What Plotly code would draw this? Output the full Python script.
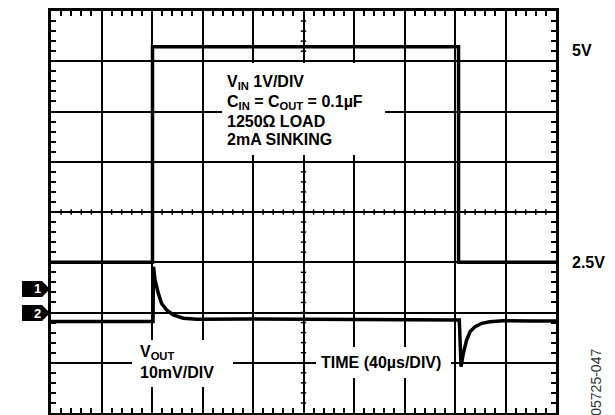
import plotly.graph_objects as go

# Scope graticule: 10 horizontal x 8 vertical divisions
X_DIVS = 10
Y_DIVS = 8
MINOR = 0.2  # five minor marks per division

# Channel 1 (input step), screen position in divisions
vin_t = [0.0, 2.01, 2.01, 8.07, 8.07, 10.0]
vin_div = [3.0, 3.0, 7.29, 7.29, 3.0, 3.0]

# Channel 2 (output transient), screen position in divisions
vout_t = [0.0, 1.0, 2.02, 2.03, 2.06, 2.125, 2.19, 2.29, 2.42, 2.62, 2.89,
          4.0, 6.0, 8.07, 8.085, 8.12, 8.165, 8.23, 8.30, 8.40, 8.53, 8.69,
          8.95, 9.5, 10.0]
vout_div = [1.82, 1.82, 1.82, 2.91, 2.65, 2.38, 2.18, 2.05, 1.95, 1.885, 1.865,
            1.87, 1.865, 1.86, 1.85, 0.92, 1.19, 1.45, 1.62, 1.72, 1.785, 1.817,
            1.837, 1.83, 1.83]

# Channel ground-reference markers at the left edge
marker_names = ["1", "2"]
marker_levels = [2.47, 1.99]

# Level labels on the right
level_labels = ["5V", "2.5V"]
level_values = [vin_div[2], vin_div[0]]

FONT = "Arial, Liberation Sans, sans-serif"

fig = go.Figure()
fig.add_trace(go.Scatter(x=vin_t, y=vin_div, mode="lines",
                         line=dict(color="black", width=3.5), hoverinfo="skip"))
fig.add_trace(go.Scatter(x=vout_t, y=vout_div, mode="lines",
                         line=dict(color="black", width=3.5), hoverinfo="skip"))

shapes = []
# minor marks along the centre cross-hair
n_x = int(round(X_DIVS / MINOR))
n_y = int(round(Y_DIVS / MINOR))
for k in range(1, n_x):
    xv = k * MINOR
    shapes.append(dict(type="line", xref="x", yref="y", x0=xv, x1=xv,
                       y0=Y_DIVS / 2 - 0.053, y1=Y_DIVS / 2 + 0.053,
                       line=dict(color="black", width=1.5), layer="between"))
for k in range(1, n_y):
    yv = k * MINOR
    shapes.append(dict(type="line", xref="x", yref="y", y0=yv, y1=yv,
                       x0=X_DIVS / 2 - 0.053, x1=X_DIVS / 2 + 0.053,
                       line=dict(color="black", width=1.5), layer="between"))

# white panels behind the text blocks
for (x0, x1, y0, y1) in [(3.386, 6.614, 5.134, 6.965),
                         (1.604, 3.604, 0.517, 1.453),
                         (5.248, 7.921, 0.697, 1.313)]:
    shapes.append(dict(type="rect", xref="x", yref="y", x0=x0, x1=x1, y0=y0, y1=y1,
                       fillcolor="white", line=dict(width=0), layer="between"))

# channel markers (arrow tags pointing at the graticule)
for lvl in marker_levels:
    shapes.append(dict(type="path", xref="paper", yref="y",
                       xsizemode="pixel", ysizemode="pixel", xanchor=0, yanchor=lvl,
                       path="M-29,-8 H-9 L-1,0 L-9,8 H-29 Z",
                       fillcolor="black", line=dict(width=0), layer="above"))

annotations = []
for name, lvl in zip(marker_names, marker_levels):
    annotations.append(dict(xref="paper", yref="y", x=0, y=lvl, xshift=-19,
                            text=f"<b>{name}</b>", showarrow=False,
                            font=dict(family=FONT, size=13, color="white")))

center_lines = ["V<sub>IN</sub> 1V/DIV",
                "C<sub>IN</sub> = C<sub>OUT</sub> = 0.1µF",
                "1250Ω LOAD",
                "2mA SINKING"]
center_y = [6.571, 6.189, 5.801, 5.433]
for txt, yv in zip(center_lines, center_y):
    annotations.append(dict(xref="x", yref="y", x=3.45, y=yv, xanchor="left",
                            yanchor="middle", text=f"<b>{txt}</b>", showarrow=False,
                            font=dict(family=FONT, size=16, color="black")))

annotations.append(dict(xref="x", yref="y", x=1.73, y=1.01, xanchor="left",
                        yanchor="middle", align="left",
                        text="<b>V<sub>OUT</sub><br>10mV/DIV</b>", showarrow=False,
                        font=dict(family=FONT, size=16, color="black")))
annotations.append(dict(xref="x", yref="y", x=5.30, y=0.999, xanchor="left",
                        yanchor="middle", text="<b>TIME (40µs/DIV)</b>", showarrow=False,
                        font=dict(family=FONT, size=16, color="black")))

for txt, yv, ys in zip(level_labels, level_values, [-4, 0]):
    annotations.append(dict(xref="paper", yref="y", x=1.0277, y=yv, yshift=ys,
                            xanchor="left", yanchor="middle", text=f"<b>{txt}</b>",
                            showarrow=False,
                            font=dict(family=FONT, size=16, color="black")))

annotations.append(dict(xref="paper", yref="y", x=1.079, y=0.62, textangle=-90,
                        xanchor="center", yanchor="middle",
                        text="05725-047", showarrow=False,
                        font=dict(family=FONT, size=14, color="#333333")))

axis_common = dict(showgrid=True, gridcolor="black", gridwidth=1.5,
                   zeroline=False, showline=True, linecolor="black", linewidth=2.5,
                   mirror="ticks", ticks="inside", ticklen=5, tickwidth=1.5,
                   tickcolor="black", showticklabels=False, dtick=1, tick0=0,
                   minor=dict(dtick=MINOR, ticks="inside", ticklen=5, tickwidth=1.5,
                              tickcolor="black", showgrid=False),
                   fixedrange=True)

fig.update_layout(
    width=615, height=415,
    margin=dict(l=51, r=59, t=11, b=2),
    paper_bgcolor="white", plot_bgcolor="white",
    showlegend=False,
    xaxis=dict(range=[0, X_DIVS], **axis_common),
    yaxis=dict(range=[0, Y_DIVS], **axis_common),
    shapes=shapes,
    annotations=annotations,
)

fig.write_html("out.html")
